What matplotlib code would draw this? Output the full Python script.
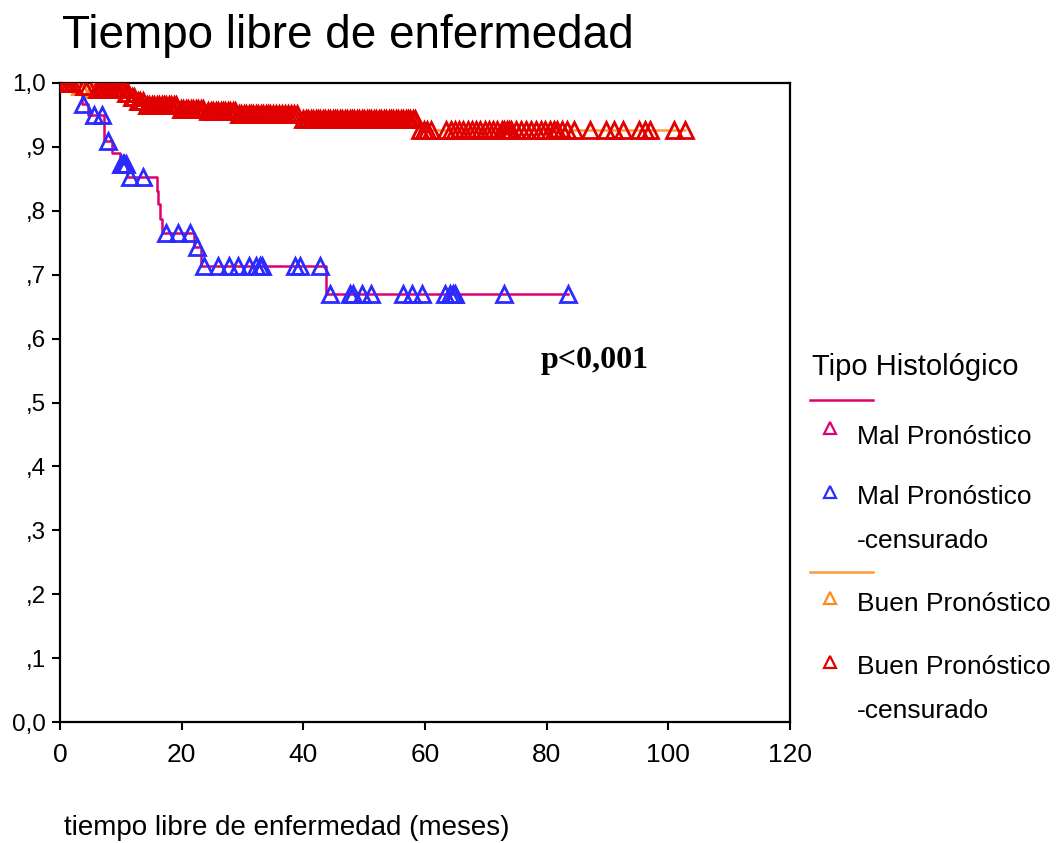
import numpy as np
import matplotlib
matplotlib.use("Agg")
from matplotlib import pyplot as plt
from matplotlib.lines import Line2D

# Mal Pronóstico: step times (months) and survival after each step
mal_step_t = [2.1, 3.6, 4.6, 7.2, 8.6, 9.8, 11.0, 15.9, 16.1, 16.4, 16.8, 22.0, 23.1, 43.8]
mal_step_s = [0.984, 0.967, 0.950, 0.909, 0.891, 0.873, 0.853, 0.831, 0.811, 0.787, 0.766, 0.743, 0.714, 0.670]
mal_cens = [0.8, 3.8, 5.6, 6.9, 7.9, 10.0, 10.3, 10.6, 10.9, 11.5, 13.7, 17.5, 19.4, 21.4,
            22.5, 23.6, 26.0, 27.7, 29.3, 31.0, 32.3, 32.8, 33.2, 38.6, 39.5, 42.7, 44.4,
            47.7, 48.2, 49.6, 51.2, 56.4, 57.8, 59.5, 63.3, 64.1, 64.6, 64.9, 73.0, 83.5]

# Buen Pronóstico
buen_step_t = [3.3, 5.5, 10.5, 11.5, 12.5, 14.0, 19.5, 24.0, 29.0, 39.5, 58.8]
buen_step_s = [0.995, 0.990, 0.985, 0.978, 0.972, 0.966, 0.960, 0.956, 0.951, 0.944, 0.926]
buen_cens = [0.2, 0.6, 1.0, 1.5, 2.0, 4.0, 4.6,
             6.0, 6.4, 6.8, 7.2, 7.6, 8.0, 8.4, 8.8, 9.2, 9.6, 10.0, 10.3, 10.8, 11.2, 11.8, 12.2,
             12.8, 13.2, 13.6, 14.3, 14.7, 15.1, 15.5, 15.9, 16.3, 16.7, 17.1, 17.5, 17.9, 18.3,
             18.7, 19.1, 19.9, 20.3, 20.7, 21.1, 21.5, 21.9, 22.3, 22.7, 23.1, 23.5,
             24.4, 24.8, 25.2, 25.6, 26.0, 26.4, 26.8, 27.2, 27.6, 28.0, 28.4, 28.8,
             29.4, 29.8, 30.2, 30.6, 31.0, 31.4, 31.8, 32.2, 32.6, 33.0, 33.4, 33.8, 34.2,
             34.6, 35.0, 35.5, 36.0, 36.5, 37.0, 37.5, 38.0, 38.5, 39.0,
             40.0, 40.4, 40.8, 41.2, 41.6, 42.0, 42.4, 42.8, 43.2, 43.6, 44.0, 44.4, 44.8,
             45.2, 45.6, 46.0, 46.4, 46.8, 47.2, 47.6, 48.0, 48.4, 48.8, 49.2, 49.6, 50.0,
             50.4, 50.8, 51.2, 51.6, 52.0, 52.4, 52.8, 53.2, 53.6, 54.0, 54.4, 54.8, 55.2,
             55.6, 56.0, 56.4, 56.8, 57.2, 57.6, 58.0, 58.4,
             59.2, 59.8, 60.4, 61.0, 63.5, 64.2, 64.9, 65.6, 66.3, 67.0, 67.7, 68.4, 69.1,
             69.8, 70.5, 71.2, 71.9, 72.6, 73.0, 73.4, 73.8, 74.2, 75.0, 75.8, 76.6, 77.4,
             78.2, 79.0, 79.8, 80.5, 81.2, 81.7, 82.5, 83.3, 84.5,
             87.2, 89.8, 91.1, 92.5, 95.2, 96.2, 97.0, 100.9, 102.7]

y_ticks = [0.0, 0.1, 0.2, 0.3, 0.4, 0.5, 0.6, 0.7, 0.8, 0.9, 1.0]
y_tick_labels = ['0,0', ',1', ',2', ',3', ',4', ',5', ',6', ',7', ',8', ',9', '1,0']
x_ticks = [0, 20, 40, 60, 80, 100, 120]

MAL_LINE = '#E0006E'
MAL_CENS = '#2B2BFF'
BUEN_LINE = '#FF9A3C'
BUEN_CENS = '#E00000'
SANS = ['Liberation Sans', 'DejaVu Sans']


def step_curve(step_t, step_s, t_end):
    t = np.concatenate([[0.0], step_t, [t_end]])
    s = np.concatenate([[1.0], step_s, [step_s[-1]]])
    return t, s


def surv_at(step_t, step_s, times):
    idx = np.searchsorted(step_t, times, side='right')
    s = np.concatenate([[1.0], step_s])
    return s[idx]


fig = plt.figure(figsize=(10.59, 8.43), dpi=100)
ax = fig.add_axes([60 / 1059, 1 - 722 / 843, 730 / 1059, 639 / 843])

mk = dict(marker='^', linestyle='none', markersize=12, markerfacecolor='none',
          markeredgewidth=2.0)

bt, bs = step_curve(buen_step_t, buen_step_s, max(buen_cens))
ax.step(bt, bs, where='post', color=BUEN_LINE, lw=1.8, zorder=2)
mt, ms = step_curve(mal_step_t, mal_step_s, max(mal_cens))
ax.step(mt, ms, where='post', color=MAL_LINE, lw=1.8, zorder=3)

# early events of the good-prognosis group show their own marker
ax.plot(buen_step_t[:2], buen_step_s[:2], color='#FF8C1A', zorder=3, **mk)
ax.plot(mal_cens, surv_at(mal_step_t, mal_step_s, mal_cens), color=MAL_CENS, zorder=4, **mk)
ax.plot(buen_cens, surv_at(buen_step_t, buen_step_s, buen_cens), color=BUEN_CENS, zorder=5, **mk)

ax.set_xlim(0, 120)
ax.set_ylim(0, 1.0)
ax.set_xticks(x_ticks)
ax.set_xticklabels([str(v) for v in x_ticks], family=SANS, fontsize=19)
ax.set_yticks(y_ticks)
ax.set_yticklabels(y_tick_labels, family=SANS, fontsize=17.5)
ax.tick_params(direction='out', length=6, width=1.5, pad=4)
ax.tick_params(axis='x', pad=9)
for sp in ax.spines.values():
    sp.set_linewidth(1.6)

ax.text(79, 0.565, 'p<0,001', family=['Liberation Serif', 'DejaVu Serif'],
        fontweight='bold', fontsize=23, va='center', ha='left')

fig.text(62 / 1059, 1 - 36 / 843, 'Tiempo libre de enfermedad', family=SANS,
         fontsize=33, va='center', ha='left')
fig.text(64 / 1059, 1 - 828 / 843, 'tiempo libre de enfermedad (meses)', family=SANS,
         fontsize=20, va='center', ha='left')

# legend drawn by hand in figure pixels
W, H = 1059, 843


def fx(px):
    return px / W


def fy(py):
    return 1 - py / H


fig.text(fx(812), fy(367), 'Tipo Histológico', family=SANS, fontsize=21, va='center')
fig.add_artist(Line2D([fx(810), fx(873)], [fy(400), fy(400)], color=MAL_LINE, lw=1.8))
fig.add_artist(Line2D([fx(810), fx(873)], [fy(572), fy(572)], color=BUEN_LINE, lw=1.8))

entries = [
    (428, 437, '#E0006E', 'Mal Pronóstico'),
    (492, 497, MAL_CENS, 'Mal Pronóstico'),
    (598, 604, '#FF8C1A', 'Buen Pronóstico'),
    (662, 667, BUEN_CENS, 'Buen Pronóstico'),
]
for ty, texty, col, lab in entries:
    fig.add_artist(Line2D([fx(830)], [fy(ty)], marker='^', markersize=9,
                          markerfacecolor='none', markeredgecolor=col,
                          markeredgewidth=1.6, linestyle='none'))
    fig.text(fx(857), fy(texty), lab, family=SANS, fontsize=19, va='center')
fig.text(fx(857), fy(541), '-censurado', family=SANS, fontsize=19, va='center')
fig.text(fx(857), fy(711), '-censurado', family=SANS, fontsize=19, va='center')

fig.savefig('out.png', dpi=100)
